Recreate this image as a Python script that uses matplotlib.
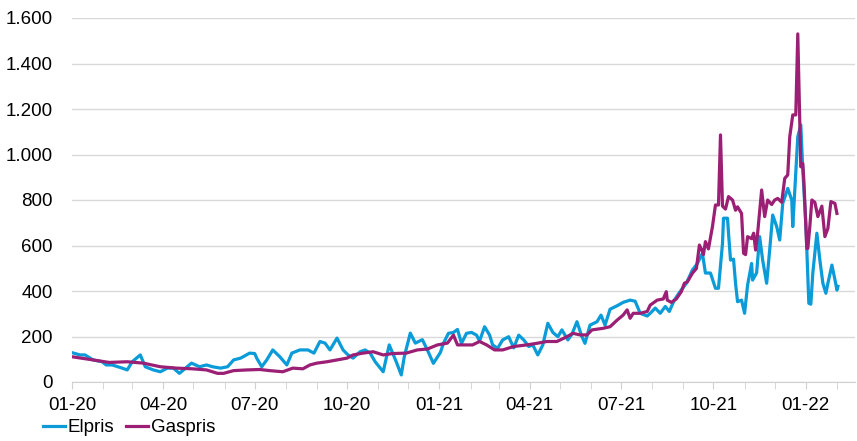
import numpy as np
import pandas as pd
import matplotlib
matplotlib.use("Agg")
import matplotlib.pyplot as plt
import matplotlib.dates as mdates
from matplotlib.ticker import FuncFormatter

plt.rcParams['font.family'] = ['Liberation Sans', 'DejaVu Sans']

start = pd.Timestamp('2020-01-01')

# days since 2020-01-01 and values
el_days = [0, 8, 13, 21, 30, 34, 40, 50, 55, 60,
           68, 73, 81, 88, 95, 101, 107, 119, 127, 134,
           140, 148, 155, 161, 168, 177, 182, 184, 189, 194,
           200, 207, 214, 219, 227, 235, 241, 247, 252, 257,
           264, 270, 275, 280, 287, 292, 297, 302, 310, 316,
           323, 328, 331, 337, 342, 349, 354, 360, 367, 370,
           375, 380, 384, 388, 393, 398, 403, 406, 411, 416,
           419, 424, 429, 435, 440, 445, 450, 455, 459, 464,
           469, 474, 479, 484, 488, 494, 498, 503, 508, 511,
           516, 523, 527, 531, 536, 543, 549, 556, 561, 566,
           573, 576, 581, 586, 591, 595, 600, 605, 612, 618,
           623, 628, 631, 636, 641, 644, 648, 649, 653, 654,
           656, 659, 661, 663, 667, 670, 673, 677, 678, 682,
           685, 688, 692, 695, 698, 702, 705, 708, 713, 717,
           718, 723, 726, 728, 731, 734, 736, 738, 742, 745,
           748, 751, 753, 757, 760, 762, 763]
elpris = [129, 119, 119, 97, 89, 75, 75, 61, 53, 89,
          119, 67, 53, 45, 61, 61, 38, 83, 67, 75,
          67, 61, 67, 97, 105, 127, 125, 105, 67, 97,
          141, 111, 75, 127, 141, 141, 127, 178, 171, 141,
          193, 141, 119, 105, 133, 141, 127, 89, 45, 163,
          89, 31, 111, 215, 171, 186, 141, 82, 130, 170,
          214, 218, 231, 170, 214, 218, 206, 180, 243, 206,
          163, 148, 185, 199, 150, 206, 185, 156, 163, 119,
          163, 258, 218, 199, 229, 185, 210, 265, 199, 170,
          250, 265, 294, 250, 320, 335, 350, 360, 355, 302,
          290, 302, 325, 302, 332, 310, 360, 393, 434, 492,
          521, 566, 479, 479, 412, 412, 609, 720, 720, 654,
          536, 540, 434, 353, 360, 302, 426, 521, 448, 480,
          639, 536, 434, 580, 734, 683, 624, 785, 851, 800,
          683, 1078, 1130, 932, 700, 346, 342, 480, 654, 536,
          434, 390, 434, 514, 450, 404, 420]

gas_days = [0, 21, 37, 55, 71, 88, 104, 120, 134, 145,
            151, 161, 174, 187, 197, 210, 220, 230, 237, 244,
            254, 264, 274, 280, 290, 300, 310, 319, 333, 344,
            354, 364, 374, 380, 384, 393, 399, 406, 413, 421,
            429, 440, 453, 463, 473, 483, 493, 499, 506, 513,
            518, 529, 536, 543, 549, 553, 556, 559, 566, 573,
            576, 583, 589, 592, 593, 597, 602, 607, 610, 613,
            618, 622, 625, 628, 629, 631, 634, 638, 641, 644,
            646, 648, 651, 654, 658, 661, 663, 667, 669, 671,
            673, 677, 679, 681, 683, 687, 690, 693, 697, 700,
            703, 707, 710, 713, 715, 718, 721, 723, 726, 728,
            729, 732, 733, 735, 737, 740, 743, 747, 750, 753,
            756, 760, 762]
gaspris = [111, 97, 86, 89, 83, 67, 61, 58, 53, 38,
           38, 50, 53, 55, 50, 45, 61, 58, 75, 83,
           89, 97, 105, 119, 127, 133, 119, 125, 127, 141,
           145, 163, 171, 206, 163, 163, 163, 178, 163, 141,
           141, 156, 163, 170, 178, 178, 199, 214, 207, 207,
           229, 236, 243, 272, 294, 317, 280, 302, 302, 310,
           338, 360, 365, 397, 360, 350, 365, 397, 434, 440,
           478, 499, 602, 573, 560, 617, 585, 683, 778, 778,
           1086, 773, 760, 815, 800, 755, 770, 741, 566, 560,
           639, 630, 654, 580, 654, 844, 727, 800, 780, 800,
           807, 790, 895, 910, 1078, 1174, 1174, 1530, 946, 960,
           888, 587, 587, 683, 800, 790, 727, 773, 639, 675,
           793, 785, 741]

el_x = start + pd.to_timedelta(el_days, unit='D')
gas_x = start + pd.to_timedelta(gas_days, unit='D')

fig = plt.figure(figsize=(8.57, 4.41), dpi=100)
ax = fig.add_axes([72 / 857, 59 / 441, 783 / 857, 364 / 441])

ax.plot(el_x, elpris, color='#0a9bd8', lw=2.3, label='Elpris')
ax.plot(gas_x, gaspris, color='#9b1f74', lw=2.3, label='Gaspris')

ax.set_ylim(0, 1600)
ax.set_yticks(np.arange(0, 1601, 200))
ax.yaxis.set_major_formatter(FuncFormatter(lambda v, p: f'{int(v):,}'.replace(',', '.')))
ax.set_xlim(start, start + pd.Timedelta(days=780))
ax.xaxis.set_major_locator(mdates.MonthLocator(bymonth=[1, 4, 7, 10]))
ax.xaxis.set_minor_locator(mdates.MonthLocator())
ax.xaxis.set_major_formatter(mdates.DateFormatter('%m-%y'))

ax.grid(axis='y', color='#d9d9d9', lw=1)
ax.set_axisbelow(True)
for s in ['left', 'right', 'top']:
    ax.spines[s].set_visible(False)
ax.spines['bottom'].set_color('#d0d0d0')
ax.tick_params(axis='y', length=0, pad=14, labelsize=13.5)
ax.tick_params(axis='x', which='both', length=5, color='#d0d0d0', pad=6, labelsize=13.5)

fig.legend(loc='lower left', bbox_to_anchor=(0.03, -0.028), ncol=2, frameon=False,
           fontsize=13.5, handlelength=1.2, handletextpad=0.15, columnspacing=0.6)

fig.savefig('out.png', dpi=100)
